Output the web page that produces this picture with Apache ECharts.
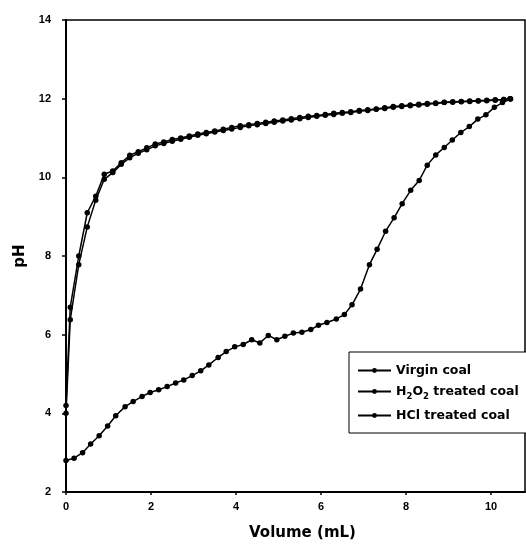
<!DOCTYPE html>
<html><head><meta charset="utf-8">
<script src="https://cdn.jsdelivr.net/npm/echarts@6/dist/echarts.min.js"></script>
<style>html,body{margin:0;padding:0;background:#fff}#c{width:526px;height:546px}</style>
</head><body><div id="c"></div>
<script>
const seriesNames = ['Virgin coal', 'H2O2 treated coal', 'HCl treated coal'];
const xAxisTitle = 'Volume (mL)';
const yAxisTitle = 'pH';

const upperX = [0, 0.1, 0.3, 0.5, 0.7, 0.9, 1.1, 1.3, 1.5, 1.7, 1.9, 2.1, 2.3, 2.5, 2.7, 2.9, 3.1, 3.3, 3.5, 3.7, 3.9, 4.1, 4.3, 4.5, 4.7, 4.9, 5.1, 5.3, 5.5, 5.7, 5.9, 6.1, 6.3, 6.5, 6.7, 6.9, 7.1, 7.3, 7.5, 7.7, 7.9, 8.1, 8.3, 8.5, 8.7, 8.9, 9.1, 9.3, 9.5, 9.7, 9.9, 10.1, 10.3, 10.45];
const virginY = [4.2, 6.7, 8.0, 9.1, 9.52, 10.08, 10.16, 10.37, 10.56, 10.65, 10.75, 10.85, 10.9, 10.96, 11.0, 11.05, 11.1, 11.14, 11.18, 11.22, 11.27, 11.31, 11.34, 11.37, 11.4, 11.43, 11.46, 11.49, 11.52, 11.55, 11.57, 11.6, 11.63, 11.65, 11.67, 11.7, 11.72, 11.74, 11.77, 11.8, 11.82, 11.84, 11.86, 11.88, 11.89, 11.91, 11.92, 11.93, 11.94, 11.95, 11.96, 11.97, 11.98, 12.0];
const h2o2Y = [4.0, 6.38, 7.78, 8.74, 9.42, 9.95, 10.12, 10.33, 10.5, 10.61, 10.7, 10.8, 10.86, 10.92, 10.97, 11.02, 11.07, 11.11, 11.15, 11.19, 11.23, 11.27, 11.31, 11.34, 11.37, 11.4, 11.43, 11.46, 11.49, 11.52, 11.55, 11.58, 11.6, 11.63, 11.65, 11.68, 11.7, 11.73, 11.75, 11.78, 11.8, 11.82, 11.84, 11.86, 11.88, 11.9, 11.91, 11.92, 11.93, 11.94, 11.95, 11.96, 11.98, 12.0];
const hclX = [0, 0.19, 0.39, 0.58, 0.78, 0.98, 1.17, 1.39, 1.58, 1.79, 1.98, 2.18, 2.38, 2.58, 2.77, 2.97, 3.17, 3.36, 3.58, 3.77, 3.97, 4.17, 4.37, 4.56, 4.76, 4.96, 5.15, 5.35, 5.55, 5.76, 5.94, 6.14, 6.36, 6.55, 6.73, 6.93, 7.14, 7.32, 7.52, 7.72, 7.91, 8.11, 8.31, 8.5, 8.7, 8.9, 9.09, 9.29, 9.49, 9.69, 9.88, 10.08, 10.27, 10.46];
const hclY = [2.8, 2.86, 3.0, 3.22, 3.43, 3.68, 3.94, 4.17, 4.3, 4.43, 4.53, 4.6, 4.68, 4.77, 4.85, 4.96, 5.08, 5.23, 5.42, 5.57, 5.69, 5.75, 5.87, 5.79, 5.98, 5.87, 5.96, 6.04, 6.06, 6.13, 6.24, 6.31, 6.4, 6.51, 6.76, 7.16, 7.78, 8.17, 8.63, 8.97, 9.33, 9.67, 9.92, 10.31, 10.57, 10.76, 10.95, 11.14, 11.29, 11.48, 11.59, 11.78, 11.9, 11.99];

const zip = (xs, ys) => xs.map((x, i) => [x, ys[i]]);
const FONT = 'Liberation Sans';
const LFONT = 'DejaVu Sans';

function lineSeries(name, data) {
  return {
    name: name, type: 'line', data: data,
    symbol: 'circle', symbolSize: 5.5, showSymbol: true,
    lineStyle: { color: '#000', width: 1.5 },
    itemStyle: { color: '#000' },
    emphasis: { disabled: true }, animation: false
  };
}

const chart = echarts.init(document.getElementById('c'), null, { renderer: 'canvas' });
chart.setOption({
  backgroundColor: '#fff',
  animation: false,
  grid: { left: 66, right: 1, top: 20, bottom: 54, show: true, borderColor: '#000', borderWidth: 1.5, backgroundColor: 'transparent' },
  xAxis: {
    type: 'value', min: 0, max: 10.8, interval: 2,
    name: xAxisTitle, nameLocation: 'middle', nameGap: 34,
    nameTextStyle: { fontFamily: LFONT, fontWeight: 'bold', fontSize: 15, color: '#000', padding: [0, 0, 0, 14] },
    axisLine: { show: true, onZero: false, lineStyle: { color: '#000', width: 2 } },
    axisTick: { show: true, inside: false, length: 3, lineStyle: { color: '#000', width: 1.5 } },
    axisLabel: { showMaxLabel: false, margin: 9, fontFamily: FONT, fontWeight: 'bold', fontSize: 11, color: '#000' },
    splitLine: { show: false }
  },
  yAxis: {
    type: 'value', min: 2, max: 14, interval: 2,
    name: yAxisTitle, nameLocation: 'middle', nameGap: 38, nameRotate: 90,
    nameTextStyle: { fontFamily: LFONT, fontWeight: 'bold', fontSize: 15, color: '#000' },
    axisLine: { show: true, onZero: false, lineStyle: { color: '#000', width: 2 } },
    axisTick: { show: true, inside: false, length: 4, lineStyle: { color: '#000', width: 1.5 } },
    axisLabel: { margin: 15, fontFamily: FONT, fontWeight: 'bold', fontSize: 11, color: '#000' },
    splitLine: { show: false }
  },
  legend: {
    orient: 'vertical', left: 349, top: 352,
    padding: [12, 40, 11, 8], itemGap: 8, itemWidth: 33, itemHeight: 6,
    borderColor: '#000', borderWidth: 1, backgroundColor: '#fff',
    data: seriesNames,
    formatter: function (n) {
      if (n === 'H2O2 treated coal') return '{n|H}{s|2}{n|O}{s|2}{n| treated coal}';
      return n;
    },
    textStyle: {
      fontFamily: LFONT, fontWeight: 'bold', fontSize: 12.5, color: '#000',
      rich: {
        n: { fontFamily: LFONT, fontWeight: 'bold', fontSize: 12.5, color: '#000' },
        s: { fontFamily: LFONT, fontWeight: 'bold', fontSize: 8.5, color: '#000', verticalAlign: 'bottom', padding: [0, 0, -3, 0] }
      }
    }
  },
  series: [
    lineSeries(seriesNames[0], zip(upperX, virginY)),
    lineSeries(seriesNames[1], zip(upperX, h2o2Y)),
    lineSeries(seriesNames[2], zip(hclX, hclY))
  ]
});
</script></body></html>
